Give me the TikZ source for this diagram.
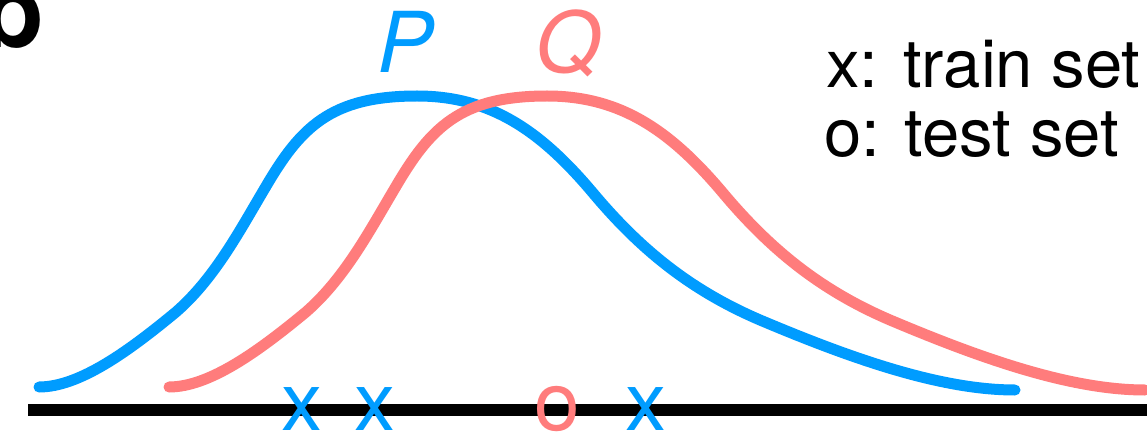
\documentclass[tikz,border=0pt]{standalone}
\usepackage{fontspec}
\setmainfont{TeX Gyre Heros}
\definecolor{pblue}{RGB}{0,156,255}
\definecolor{qred}{RGB}{255,124,124}
\tikzset{
  dens/.style={line width=11pt, line cap=round, line join=round},
  sample/.style={inner sep=0pt, anchor=base, font=\fontsize{82}{82}\selectfont},
  legend/.style={inner sep=0pt, anchor=base west, font=\fontsize{67}{67}\selectfont},
  dlabel/.style={inner sep=0pt, anchor=base west, font=\fontsize{84}{84}\selectfont\itshape},
}
\newcommand{\densitycurve}{(39,387) .. controls (80,387) and (130,350) .. (176,312)
  .. controls (215,278) and (240,230) .. (265,188)
  .. controls (300,128) and (330,96) .. (417,96)
  .. controls (490,96) and (540,130) .. (593,193)
  .. controls (640,249) and (690,290) .. (760,320)
  .. controls (850,358) and (940,390) .. (1015,390)}
\begin{document}
\begin{tikzpicture}[x=1pt, y=-1pt]
\clip (0,0) rectangle (1147,438);
\fill[white] (0,0) rectangle (1147,438);
% panel letter (cropped)
\node[inner sep=0pt, anchor=base west, font=\fontsize{104}{104}\selectfont\bfseries] (panel) at (-20,48) {b};
% axis
\coordinate (axl) at (28,410);
\coordinate (axr) at (1150,410);
\draw[line width=12pt] (axl) -- (axr);
% densities
\draw[dens, pblue] \densitycurve;
\draw[dens, qred, xshift=130pt] \densitycurve;
% labels
\node[dlabel, text=pblue] (P) at (377,73) {P};
\node[dlabel, text=qred] (Q) at (535,73) {Q};
% samples
\node[sample, text=pblue] (x1) at (302,430) {x};
\node[sample, text=pblue] (x2) at (375,430) {x};
\node[sample, text=qred] (o1) at (557,430) {o};
\node[sample, text=pblue] (x3) at (646,430) {x};
% legend
\node[legend] (l1) at (826,88) {x: train set};
\node[legend] (l2) at (824,157) {o: test set};
\end{tikzpicture}
\end{document}
